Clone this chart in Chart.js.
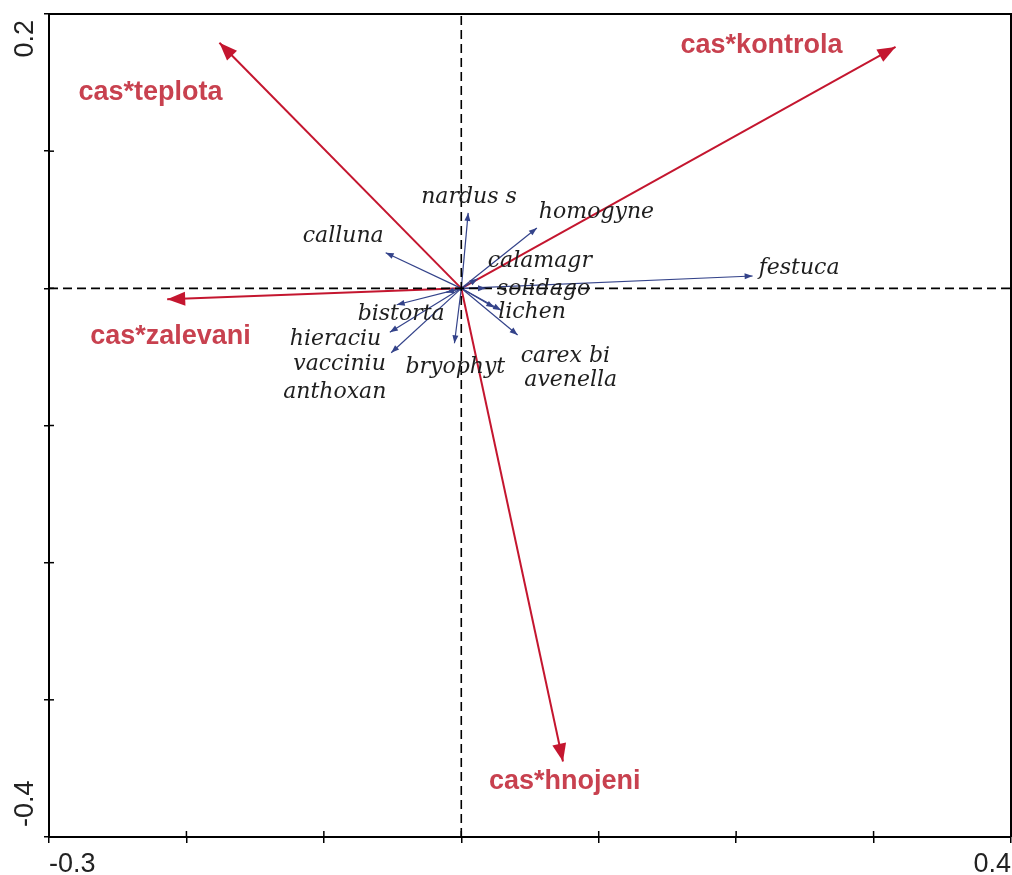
<!DOCTYPE html>
<html>
<head>
<meta charset="utf-8">
<script src="https://cdn.jsdelivr.net/npm/chart.js@4/dist/chart.umd.min.js"></script>
<style>
  html, body { margin: 0; padding: 0; background: #ffffff; }
  #wrap { width: 1012px; height: 875px; }
</style>
</head>
<body>
<div id="wrap"><canvas id="biplot" width="1012" height="875"></canvas></div>
<script>
// Axis ticks and the labels printed at the axis ends
const xTicks = [-0.3, -0.2, -0.1, 0, 0.1, 0.2, 0.3, 0.4];
const yTicks = [-0.4, -0.3, -0.2, -0.1, 0, 0.1, 0.2];
const xEndLabels = ['-0.3', '0.4'];
const yEndLabels = ['-0.4', '0.2'];

// Explanatory variables (time x treatment interactions)
const envNames = ['cas*teplota', 'cas*kontrola', 'cas*zalevani', 'cas*hnojeni'];
const envX = [-0.176, 0.316, -0.214, 0.074];
const envY = [0.179, 0.176, -0.008, -0.345];

// Species scores
const spNames = ['nardus s', 'homogyne', 'calluna', 'calamagr', 'solidago', 'lichen',
                 'carex bi', 'avenella', 'bistorta', 'hieraciu', 'vacciniu', 'anthoxan',
                 'bryophyt', 'festuca'];
const spX = [0.005, 0.055, -0.055, 0.012, 0.018, 0.029, 0.041, 0.024, -0.047, -0.052, -0.051, -0.011, -0.005, 0.212];
const spY = [0.055, 0.044, 0.026, 0.007, 0.000, -0.016, -0.034, -0.014, -0.012, -0.032, -0.047, -0.003, -0.040, 0.009];

// Label placement: pixel offset of the text start / baseline from the arrow tip
const envLabelOffset = [[-141, 57], [-215, 6], [-77, 45], [-74, 27]];
const spLabelOffset = [[-47, -10], [2, -10], [-83, -11], [10, -12], [11, 7], [-3, 8],
                       [3, 27], [30, 78], [-39, 15], [-100, 13], [-98, 17], [-163, 106],
                       [-49, 30], [6, -2]];

const RED = '#c4162f';
const RED_TEXT = '#c8414f';
const BLUE = '#34438a';

const datasets = [];

// dashed zero lines across the full axis ranges
datasets.push({
  data: [{ x: xTicks[0], y: 0 }, { x: xTicks[xTicks.length - 1], y: 0 }],
  borderColor: '#000', borderWidth: 1.6, borderDash: [9, 5]
});
datasets.push({
  data: [{ x: 0, y: yTicks[0] }, { x: 0, y: yTicks[yTicks.length - 1] }],
  borderColor: '#000', borderWidth: 1.6, borderDash: [9, 5]
});

// species arrows
spNames.forEach((name, i) => {
  datasets.push({
    data: [{ x: 0, y: 0 }, { x: spX[i], y: spY[i] }],
    borderColor: BLUE, borderWidth: 1.2,
    arrow: { len: 8, half: 3, color: BLUE },
    tag: { text: name, off: spLabelOffset[i], font: 'italic 22px "DejaVu Serif", serif', color: '#1e1e1e' }
  });
});

// explanatory variable arrows
envNames.forEach((name, i) => {
  datasets.push({
    data: [{ x: 0, y: 0 }, { x: envX[i], y: envY[i] }],
    borderColor: RED, borderWidth: 2,
    arrow: { len: 18, half: 7, color: RED },
    tag: { text: name, off: envLabelOffset[i], font: 'bold 27px "Liberation Sans", Arial, sans-serif', color: RED_TEXT }
  });
});

datasets.forEach(d => { d.showLine = true; d.pointRadius = 0; d.fill = false; });

function drawHead(ctx, x0, y0, x1, y1, len, half, color) {
  const a = Math.atan2(y1 - y0, x1 - x0);
  const c = Math.cos(a), s = Math.sin(a);
  const bx = x1 - len * c, by = y1 - len * s;
  ctx.fillStyle = color;
  ctx.beginPath();
  ctx.moveTo(x1, y1);
  ctx.lineTo(bx - half * s, by + half * c);
  ctx.lineTo(bx + half * s, by - half * c);
  ctx.closePath();
  ctx.fill();
}

const overlay = {
  id: 'overlay',
  afterDatasetsDraw(chart) {
    const { ctx, chartArea: a, scales } = chart;
    const xs = scales.x, ys = scales.y;
    ctx.save();

    // top and right sides of the frame
    ctx.strokeStyle = '#000';
    ctx.lineWidth = 2;
    ctx.beginPath();
    ctx.moveTo(a.left, a.top);
    ctx.lineTo(a.right, a.top);
    ctx.lineTo(a.right, a.bottom);
    ctx.stroke();

    // inner halves of the tick marks
    ctx.lineWidth = 1.5;
    xs.ticks.forEach(t => {
      const px = xs.getPixelForValue(t.value);
      ctx.beginPath(); ctx.moveTo(px, a.bottom); ctx.lineTo(px, a.bottom - 6); ctx.stroke();
    });
    ys.ticks.forEach(t => {
      const py = ys.getPixelForValue(t.value);
      ctx.beginPath(); ctx.moveTo(a.left, py); ctx.lineTo(a.left + 5, py); ctx.stroke();
    });

    // rotated end labels of the vertical axis
    ctx.fillStyle = '#222';
    ctx.font = '27px "Liberation Sans", Arial, sans-serif';
    ctx.textBaseline = 'alphabetic';
    const yTop = ys.getPixelForValue(yTicks[yTicks.length - 1]);
    const yBot = ys.getPixelForValue(yTicks[0]);
    ctx.save();
    ctx.translate(a.left - 16, yTop + 6);
    ctx.rotate(-Math.PI / 2);
    ctx.textAlign = 'right';
    ctx.fillText(yEndLabels[1], 0, 0);
    ctx.restore();
    ctx.save();
    ctx.translate(a.left - 16, yBot - 10);
    ctx.rotate(-Math.PI / 2);
    ctx.textAlign = 'left';
    ctx.fillText(yEndLabels[0], 0, 0);
    ctx.restore();

    // arrowheads and arrow labels
    chart.data.datasets.forEach((ds, i) => {
      if (!ds.arrow) return;
      const m = chart.getDatasetMeta(i);
      const p0 = m.data[0], p1 = m.data[1];
      drawHead(ctx, p0.x, p0.y, p1.x, p1.y, ds.arrow.len, ds.arrow.half, ds.arrow.color);
    });
    chart.data.datasets.forEach((ds, i) => {
      if (!ds.tag) return;
      const p1 = chart.getDatasetMeta(i).data[1];
      ctx.font = ds.tag.font;
      ctx.fillStyle = ds.tag.color;
      ctx.textAlign = 'left';
      ctx.textBaseline = 'alphabetic';
      ctx.fillText(ds.tag.text, p1.x + ds.tag.off[0], p1.y + ds.tag.off[1]);
    });
    ctx.restore();
  }
};

new Chart(document.getElementById('biplot'), {
  type: 'scatter',
  data: { datasets },
  options: {
    responsive: false,
    animation: false,
    events: [],
    layout: { padding: { top: 14, right: 1, left: 0, bottom: 0 } },
    plugins: { legend: { display: false }, tooltip: { enabled: false } },
    scales: {
      x: {
        type: 'linear',
        min: xTicks[0], max: xTicks[xTicks.length - 1],
        afterBuildTicks: s => { s.ticks = xTicks.map(v => ({ value: v })); },
        afterFit: s => { s.height = 38; s.paddingLeft = 0; s.paddingRight = 0; },
        grid: { drawOnChartArea: false, drawTicks: true, tickLength: 6, color: '#000', lineWidth: 1.5 },
        border: { display: true, color: '#000', width: 2 },
        ticks: {
          autoSkip: false, maxRotation: 0, minRotation: 0, align: 'inner', padding: 5,
          color: '#222', font: { family: '"Liberation Sans", Arial, sans-serif', size: 27 },
          callback: (v, i, arr) => (i === 0 ? xEndLabels[0] : (i === arr.length - 1 ? xEndLabels[1] : ''))
        }
      },
      y: {
        type: 'linear',
        min: yTicks[0], max: yTicks[yTicks.length - 1],
        afterBuildTicks: s => { s.ticks = yTicks.map(v => ({ value: v })); },
        afterFit: s => { s.width = 49; s.paddingTop = 0; s.paddingBottom = 0; },
        grid: { drawOnChartArea: false, drawTicks: true, tickLength: 5, color: '#000', lineWidth: 1.5 },
        border: { display: true, color: '#000', width: 2 },
        ticks: { display: false }
      }
    }
  },
  plugins: [overlay]
});
</script>
</body>
</html>
